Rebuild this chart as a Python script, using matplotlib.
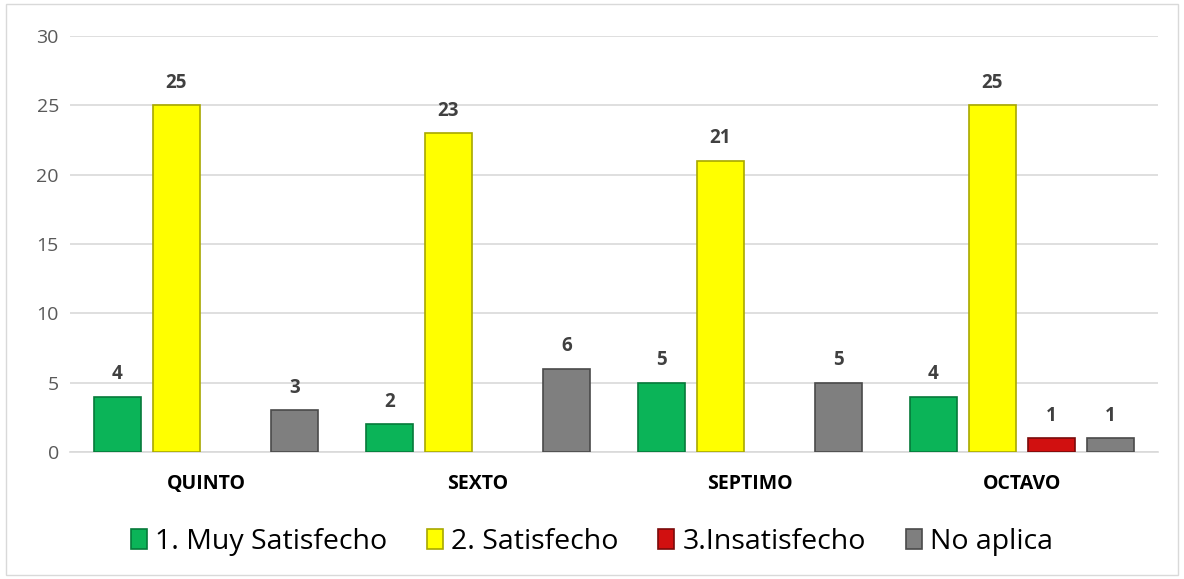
import matplotlib
matplotlib.use("Agg")
import matplotlib.pyplot as plt
import numpy as np
from matplotlib.patches import Rectangle

categories = ["QUINTO", "SEXTO", "SEPTIMO", "OCTAVO"]
series_names = ["1. Muy Satisfecho", "2. Satisfecho", "3.Insatisfecho", "No aplica"]
muy_satisfecho = [4, 2, 5, 4]
satisfecho = [25, 23, 21, 25]
insatisfecho = [0, 0, 0, 1]
no_aplica = [3, 6, 5, 1]
yticks = [0, 5, 10, 15, 20, 25, 30]

series = [muy_satisfecho, satisfecho, insatisfecho, no_aplica]
colors = ["#0bb458", "#ffff00", "#d11010", "#7f7f7f"]
edges = ["#067a3a", "#a8a800", "#7a0a0a", "#4a4a4a"]

plt.rcParams['font.family'] = ['Open Sans', 'DejaVu Sans']
fig = plt.figure(figsize=(11.84, 5.79), dpi=100)
fig.patches.append(Rectangle((6/1184, 4/579), 1172/1184, 571/579, transform=fig.transFigure,
                             fill=False, edgecolor="#d9d9d9", linewidth=1))
ax = fig.add_axes([70/1184, 1-452/579, 1088/1184, (452-36)/579])

x = np.arange(len(categories))
slot = 0.217
width = 0.176
offsets = [-1.5, -0.5, 0.5, 1.5]
handles = []
for i, (vals, c, e) in enumerate(zip(series, colors, edges)):
    pos = x + offsets[i]*slot
    vals_plot = [v if v > 0 else np.nan for v in vals]
    bars = ax.bar(pos, vals_plot, width, color=c, edgecolor=e, linewidth=1.2, zorder=3,
                  label=series_names[i])
    handles.append(bars)
    for p, v in zip(pos, vals):
        if v > 0:
            ax.text(p, v + 0.9, str(v), ha="center", va="bottom", fontsize=13.5,
                    fontweight="bold", color="#404040")

ax.set_xlim(-0.5, 3.5)
ax.set_ylim(0, 30)
ax.set_yticks(yticks)
ax.yaxis.grid(True, color="#d9d9d9", linewidth=1.2, zorder=0)
ax.set_axisbelow(True)
for s in ["top", "right", "left"]:
    ax.spines[s].set_visible(False)
ax.spines["bottom"].set_color("#d9d9d9")
ax.spines["bottom"].set_linewidth(1.2)
ax.tick_params(axis="y", length=0, labelsize=14, labelcolor="#595959", pad=8)
ax.tick_params(axis="x", length=0, pad=16)
ax.set_xticks(x)
ax.set_xticklabels(categories, fontsize=14, fontweight="bold", color="black")

fig.legend(handles=handles, labels=series_names, loc="center", bbox_to_anchor=(0.5, 1-542/579),
           ncol=4, frameon=False, fontsize=20.5, handlelength=0.55, handleheight=0.75,
           handletextpad=0.3, columnspacing=1.4)

fig.savefig("out.png", dpi=100)
